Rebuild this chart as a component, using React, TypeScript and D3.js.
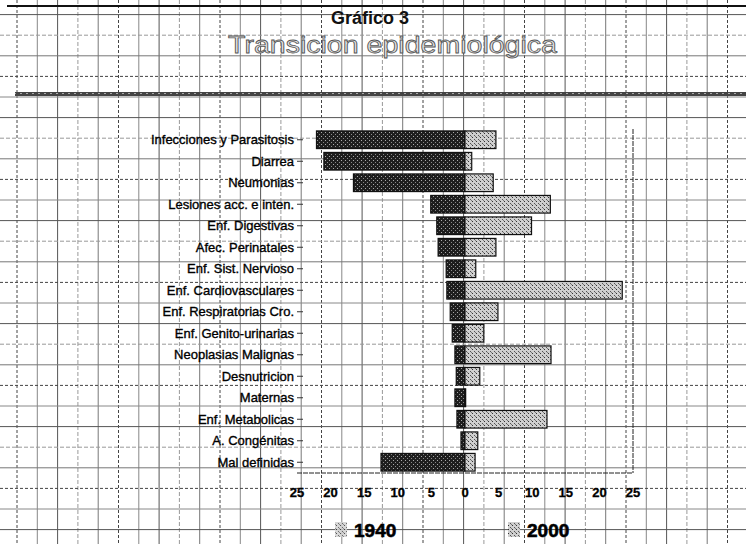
import { useEffect, useRef } from "react";
import * as d3 from "d3";

const categories = [
  "Infecciones y Parasitosis",
  "Diarrea",
  "Neumonias",
  "Lesiones acc. e inten.",
  "Enf. Digestivas",
  "Afec. Perinatales",
  "Enf. Sist. Nervioso",
  "Enf. Cardiovasculares",
  "Enf. Respiratorias Cro.",
  "Enf. Genito-urinarias",
  "Neoplasias Malignas",
  "Desnutricion",
  "Maternas",
  "Enf. Metabolicas",
  "A. Congénitas",
  "Mal definidas",
];
// % of deaths, 1940 drawn to the left, 2000 to the right
const values1940 = [22.1, 21.0, 16.6, 5.1, 4.2, 4.0, 2.8, 2.7, 2.2, 1.9, 1.5, 1.3, 1.5, 1.2, 0.6, 12.5];
const values2000 = [4.6, 1.0, 4.2, 12.7, 9.9, 4.6, 1.6, 23.4, 4.9, 2.8, 12.8, 2.2, 0.1, 12.2, 1.9, 1.5];
const tickValues = [-25, -20, -15, -10, -5, 0, 5, 10, 15, 20, 25];
const seriesNames = ["1940", "2000"];

const FONT = "'Liberation Sans', Arial, sans-serif";

export default function App() {
  const ref = useRef<SVGSVGElement>(null);
  const width = 746;
  const height = 544;

  useEffect(() => {
    const svg = d3.select(ref.current);
    svg.selectAll("*").remove();

    /* -------- patterns (scanned stipple look) -------- */
    const defs = svg.append("defs");
    const p1 = defs.append("pattern").attr("id", "p1940").attr("width", 4).attr("height", 4)
      .attr("patternUnits", "userSpaceOnUse");
    p1.append("rect").attr("width", 4).attr("height", 4).attr("fill", "#1e1e1e");
    p1.append("rect").attr("x", 1).attr("y", 0).attr("width", 1).attr("height", 1).attr("fill", "#aaa");
    p1.append("rect").attr("x", 3).attr("y", 2).attr("width", 1).attr("height", 1).attr("fill", "#888");
    const p2 = defs.append("pattern").attr("id", "p2000").attr("width", 4).attr("height", 4)
      .attr("patternUnits", "userSpaceOnUse");
    p2.append("rect").attr("width", 4).attr("height", 4).attr("fill", "#cfcfcf");
    p2.append("rect").attr("x", 0).attr("y", 1).attr("width", 1).attr("height", 1).attr("fill", "#333");
    p2.append("rect").attr("x", 2).attr("y", 3).attr("width", 1).attr("height", 1).attr("fill", "#555");
    p2.append("rect").attr("x", 3).attr("y", 0).attr("width", 1).attr("height", 1).attr("fill", "#777");
    const pb = defs.append("pattern").attr("id", "pband").attr("width", 6).attr("height", 4)
      .attr("patternUnits", "userSpaceOnUse");
    pb.append("rect").attr("width", 6).attr("height", 4).attr("fill", "#444");
    pb.append("rect").attr("x", 2).attr("y", 1).attr("width", 2).attr("height", 1).attr("fill", "#aaa");

    /* -------- graph paper -------- */
    const grid = svg.append("g");
    const vx = d3.range(17, width, 20.3);
    const hy = d3.range(14.6, height, 20.6);
    const style = (i: number) => [
      { c: "#444", d: "3,2" },
      { c: "#888", d: null },
      { c: "#555", d: null },
      { c: "#999", d: "4,2" },
      { c: "#777", d: null },
    ][i % 5];
    grid.selectAll("line.v").data(vx).join("line")
      .attr("x1", (d) => d).attr("x2", (d) => d).attr("y1", 0).attr("y2", height)
      .attr("stroke", (_, i) => style(i).c)
      .attr("stroke-dasharray", (_, i) => style(i).d)
      .attr("stroke-width", 1);
    grid.selectAll("line.h").data(hy).join("line")
      .attr("y1", (d) => d).attr("y2", (d) => d).attr("x1", 0).attr("x2", width)
      .attr("stroke", (_, i) => style(i + 2).c)
      .attr("stroke-dasharray", (_, i) => style(i + 2).d)
      .attr("stroke-width", 1);

    /* -------- header -------- */
    svg.append("line").attr("x1", 7).attr("x2", width).attr("y1", 6).attr("y2", 6)
      .attr("stroke", "#111").attr("stroke-width", 2);
    svg.append("text").attr("x", 370).attr("y", 24).attr("text-anchor", "middle")
      .attr("font-family", FONT).attr("font-weight", "bold").attr("font-size", 18)
      .attr("fill", "#111").text("Gráfico 3");
    svg.append("text").attr("x", 228).attr("y", 53)
      .attr("textLength", 329).attr("lengthAdjust", "spacingAndGlyphs")
      .attr("font-family", FONT).attr("font-size", 24)
      .attr("fill", "#e4e4e4").attr("stroke", "#555").attr("stroke-width", 0.8)
      .text("Transicion epidemiológica");
    svg.append("rect").attr("x", 15).attr("y", 92).attr("width", width - 15).attr("height", 4)
      .attr("fill", "url(#pband)");

    /* -------- scales -------- */
    const x = d3.scaleLinear().domain([-25, 25]).range([297, 633]);
    const y = d3.scaleBand().domain(categories).range([129, 473]).paddingInner(0.18).paddingOuter(0.09);

    /* -------- plot frame -------- */
    svg.append("line").attr("x1", 633).attr("x2", 633).attr("y1", 129).attr("y2", 473)
      .attr("stroke", "#222").attr("stroke-dasharray", "5,1");
    svg.append("line").attr("x1", 297).attr("x2", 633).attr("y1", 473).attr("y2", 473)
      .attr("stroke", "#222").attr("stroke-dasharray", "5,1");

    /* -------- bars -------- */
    const bars = svg.append("g").attr("stroke", "#111").attr("stroke-width", 1.2);
    bars.selectAll("rect.b1940").data(values1940).join("rect")
      .attr("x", (d) => x(-d)).attr("width", (d) => x(0) - x(-d))
      .attr("y", (_, i) => y(categories[i])!).attr("height", y.bandwidth())
      .attr("fill", "url(#p1940)");
    bars.selectAll("rect.b2000").data(values2000).join("rect")
      .attr("x", x(0)).attr("width", (d) => x(d) - x(0))
      .attr("y", (_, i) => y(categories[i])!).attr("height", y.bandwidth())
      .attr("fill", "url(#p2000)");

    /* -------- category labels -------- */
    const cat = svg.append("g");
    cat.selectAll("text").data(categories).join("text")
      .attr("x", 294).attr("y", (d) => y(d)! + y.bandwidth() / 2).attr("dy", "0.35em")
      .attr("text-anchor", "end").attr("font-family", FONT).attr("font-size", 13)
      .attr("fill", "#000").attr("stroke", "#000").attr("stroke-width", 0.35)
      .text((d) => d);
    cat.selectAll("line").data(categories).join("line")
      .attr("x1", 297).attr("x2", 303)
      .attr("y1", (d) => y(d)! + y.bandwidth() / 2).attr("y2", (d) => y(d)! + y.bandwidth() / 2)
      .attr("stroke", "#333");

    /* -------- value axis -------- */
    svg.append("g").selectAll("text").data(tickValues).join("text")
      .attr("x", (d) => x(d)).attr("y", 492).attr("dy", "0.35em").attr("text-anchor", "middle")
      .attr("font-family", FONT).attr("font-weight", "bold").attr("font-size", 13)
      .attr("fill", "#000").attr("stroke", "#000").attr("stroke-width", 0.3)
      .text((d) => Math.abs(d));

    /* -------- legend -------- */
    const legend = svg.append("g");
    const lx = [335, 508];
    seriesNames.forEach((name, i) => {
      legend.append("rect").attr("x", lx[i]).attr("y", 522).attr("width", 12).attr("height", 15)
        .attr("fill", "url(#p2000)").attr("opacity", i === 0 ? 0.85 : 1);
      legend.append("text").attr("x", lx[i] + 19).attr("y", 537)
        .attr("font-family", FONT).attr("font-weight", "bold").attr("font-size", 19)
        .attr("fill", "#000").attr("stroke", "#000").attr("stroke-width", 0.6)
        .text(name);
    });
  }, []);

  return (
    <svg
      ref={ref}
      width={width}
      height={height}
      style={{ position: "absolute", left: 0, top: 0, background: "#fff" }}
    />
  );
}
